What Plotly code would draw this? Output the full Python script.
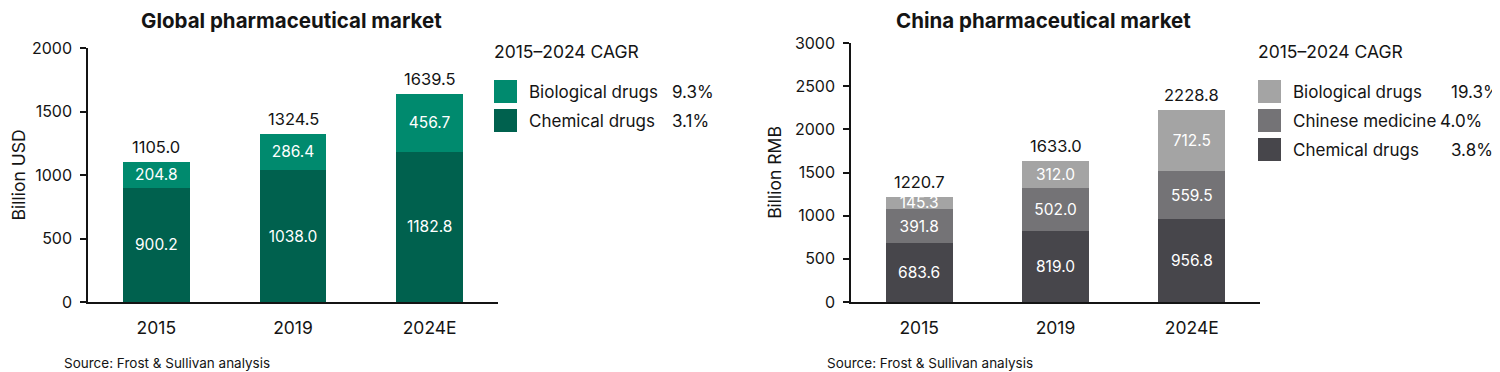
import plotly.graph_objects as go

# ---------------- data ----------------
years = ["2015", "2019", "2024E"]

global_chemical = [900.2, 1038.0, 1182.8]
global_biological = [204.8, 286.4, 456.7]
global_totals = [1105.0, 1324.5, 1639.5]
global_series = ["Biological drugs", "Chemical drugs"]
global_cagr = ["9.3%", "3.1%"]

china_chemical = [683.6, 819.0, 956.8]
china_chinese_medicine = [391.8, 502.0, 559.5]
china_biological = [145.3, 312.0, 712.5]
china_totals = [1220.7, 1633.0, 2228.8]
china_series = ["Biological drugs", "Chinese medicine", "Chemical drugs"]
china_cagr = ["19.3%", "4.0%", "3.8%"]

left_ticks = [0, 500, 1000, 1500, 2000]
right_ticks = [0, 500, 1000, 1500, 2000, 2500, 3000]

# ---------------- style ----------------
# The page body has an 8px default margin; size the figure so it fits the window.
OFF = 8
W, H = 1500 - OFF, 372 - OFF
FONT = "Inter, Liberation Sans, Arial, sans-serif"
TXT = "#141414"
G_BIO, G_CHEM = "#008A6E", "#00614E"
C_BIO, C_CM, C_CHEM = "#A4A4A4", "#747376", "#47464B"

xpos = list(range(len(years)))  # category slots for the year labels


def px(x):
    """page pixel x -> paper fraction"""
    return (x - OFF) / W


def py(y):
    """page pixel y -> paper fraction"""
    return 1 - (y - OFF) / H


fig = go.Figure()


def add_bar(y, color, name, xa, ya):
    fig.add_trace(go.Bar(
        x=xpos, y=y, name=name, customdata=years,
        marker=dict(color=color, line=dict(width=0)),
        texttemplate="%{y:.1f}", textposition="inside", insidetextanchor="middle",
        textfont=dict(color="white", size=15.5, family=FONT),
        xaxis=xa, yaxis=ya, showlegend=False,
        hovertemplate="%{customdata}<br>" + name + ": %{y:.1f}<extra></extra>",
    ))


add_bar(global_chemical, G_CHEM, "Chemical drugs", "x", "y")
add_bar(global_biological, G_BIO, "Biological drugs", "x", "y")
add_bar(china_chemical, C_CHEM, "Chemical drugs", "x2", "y2")
add_bar(china_chinese_medicine, C_CM, "Chinese medicine", "x2", "y2")
add_bar(china_biological, C_BIO, "Biological drugs", "x2", "y2")

annotations = []
for xr, yr_, tots in (("x", "y", global_totals), ("x2", "y2", china_totals)):
    for i, t in zip(xpos, tots):
        annotations.append(dict(x=i, y=t, xref=xr, yref=yr_, text=f"{t:.1f}",
                                showarrow=False, yanchor="bottom", yshift=3,
                                font=dict(size=16.5, color=TXT, family=FONT)))

# titles
annotations.append(dict(x=px(291), y=py(21), xref="paper", yref="paper",
                        text="<b>Global pharmaceutical market</b>", showarrow=False,
                        xanchor="center", yanchor="middle",
                        font=dict(size=20.5, color=TXT, family=FONT)))
annotations.append(dict(x=px(1043), y=py(21), xref="paper", yref="paper",
                        text="<b>China pharmaceutical market</b>", showarrow=False,
                        xanchor="center", yanchor="middle",
                        font=dict(size=20.5, color=TXT, family=FONT)))
# sources
for sx in (62, 825):
    annotations.append(dict(x=px(sx), y=py(363), xref="paper", yref="paper",
                            text="Source: Frost & Sullivan analysis", showarrow=False,
                            xanchor="left", yanchor="middle",
                            font=dict(size=13.5, color=TXT, family=FONT)))

# manual legends (swatch + name + CAGR columns)
shapes = []


def legend(x0, names, colors, cagrs, cagr_x):
    annotations.append(dict(x=px(x0 - 2), y=py(51), xref="paper", yref="paper",
                            text="2015–2024 CAGR", showarrow=False,
                            xanchor="left", yanchor="middle",
                            font=dict(size=17.5, color=TXT, family=FONT)))
    for i, (n, c, g) in enumerate(zip(names, colors, cagrs)):
        top = 80 + i * 29
        shapes.append(dict(type="rect", xref="paper", yref="paper",
                           x0=px(x0), x1=px(x0 + 23), y0=py(top + 23), y1=py(top),
                           fillcolor=c, line=dict(width=0)))
        annotations.append(dict(x=px(x0 + 33), y=py(top + 12), xref="paper", yref="paper",
                                text=n, showarrow=False, xanchor="left", yanchor="middle",
                                font=dict(size=17, color=TXT, family=FONT)))
        annotations.append(dict(x=px(cagr_x[i]), y=py(top + 12), xref="paper", yref="paper",
                                text=g, showarrow=False, xanchor="left", yanchor="middle",
                                font=dict(size=17, color=TXT, family=FONT)))


legend(494, global_series, [G_BIO, G_CHEM], global_cagr, [670, 670])
legend(1258, china_series, [C_BIO, C_CM, C_CHEM], china_cagr, [1449, 1438, 1449])

axis_common = dict(showgrid=False, zeroline=False, showline=True, linecolor=TXT,
                   linewidth=1.5, automargin=False)
ytickfont = dict(size=16, color=TXT, family=FONT)

xaxis_common = dict(type="linear", range=[-0.5, len(years) - 0.5], tickmode="array",
                    tickvals=xpos, ticktext=years, ticks="", ticklabelstandoff=9,
                    fixedrange=True, tickfont=dict(size=17.5, color=TXT, family=FONT),
                    **axis_common)

fig.update_layout(
    width=W, height=H, autosize=False,
    margin=dict(l=0, r=0, t=0, b=0, pad=0, autoexpand=False),
    paper_bgcolor="white", plot_bgcolor="white",
    barmode="stack", bargap=0.51,
    uniformtext=dict(minsize=15.5, mode="show"),
    xaxis=dict(domain=[px(88), px(498)], anchor="y", **xaxis_common),
    yaxis=dict(domain=[py(302), py(48)], anchor="x", range=[0, 2000], tickvals=left_ticks,
               ticks="outside", ticklen=6, tickwidth=1.5, tickcolor=TXT,
               ticklabelstandoff=5, tickfont=ytickfont,
               title=dict(text="Billion USD", standoff=21,
                          font=dict(size=17.5, color=TXT, family=FONT)),
               **axis_common),
    xaxis2=dict(domain=[px(851), px(1260)], anchor="y2", **xaxis_common),
    yaxis2=dict(domain=[py(302), py(43)], anchor="x2", range=[0, 3000], tickvals=right_ticks,
                ticks="outside", ticklen=6, tickwidth=1.5, tickcolor=TXT,
                ticklabelstandoff=5, tickfont=ytickfont,
                title=dict(text="Billion RMB", standoff=9,
                           font=dict(size=17.5, color=TXT, family=FONT)),
                **axis_common),
    annotations=annotations,
    shapes=shapes,
)

fig.write_html("out.html")
